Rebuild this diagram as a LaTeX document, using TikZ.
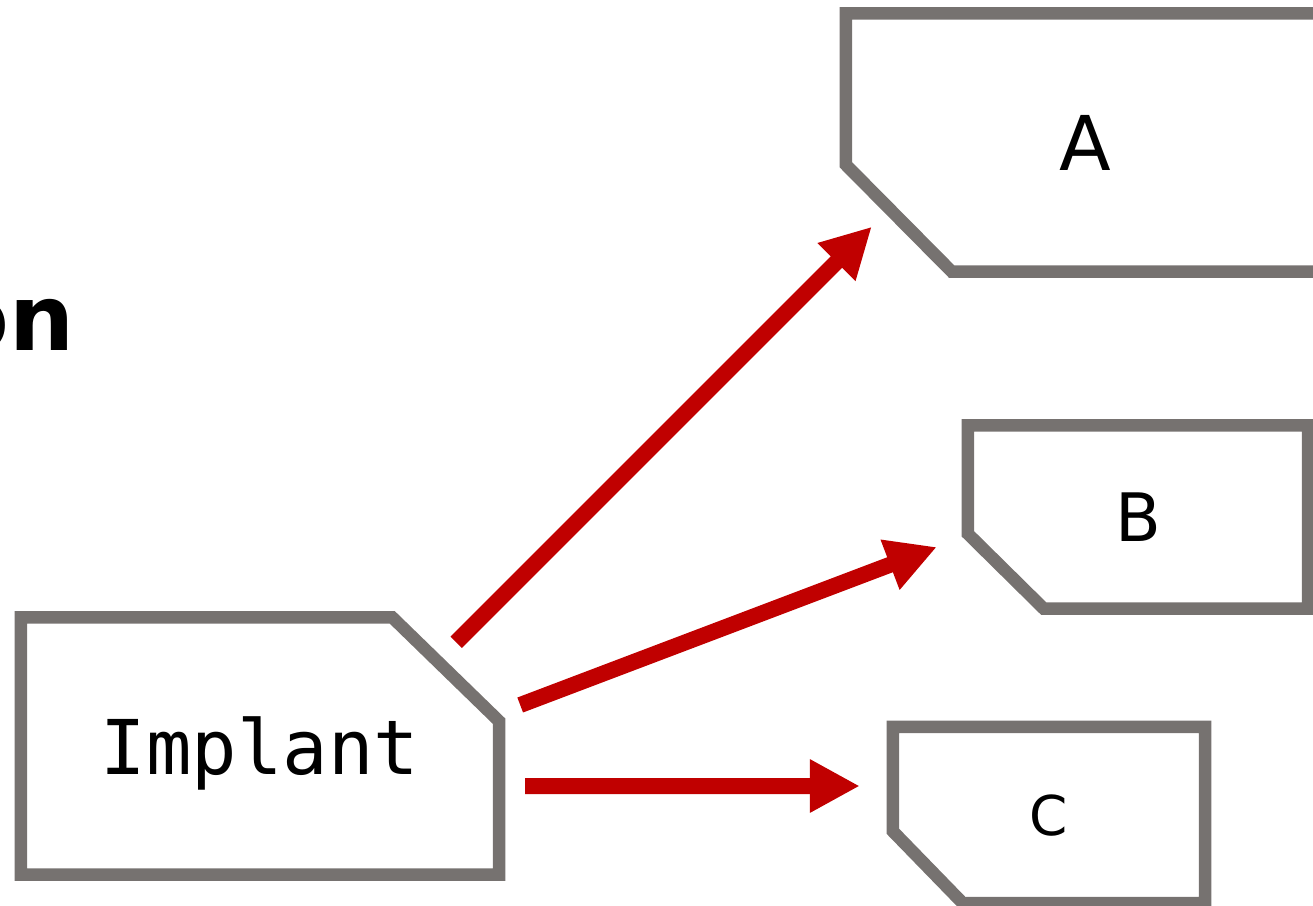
\documentclass[tikz,border=0pt]{standalone}
\usepackage{fontspec}
\setmainfont{DejaVu Sans}
\setmonofont{DejaVu Sans Mono}
\usepackage{xcolor}
\usepackage{tikz}
\usetikzlibrary{calc, arrows.meta, positioning}
\definecolor{boxgray}{RGB}{118,114,112}
\definecolor{flowred}{RGB}{192,0,0}
\tikzset{
    boxnode/.style = {draw=none, rectangle, inner sep = 0em, node distance=0em, text depth=0pt},
    boxline/.style = {draw=boxgray, line width=0.125cm, miter limit=10},
    textnode/.style  = {draw=none, fill=none, rectangle, inner sep = 0em, node distance=0em},
    connect/.style = {draw=flowred, line width=0.16cm, -{Triangle[length=0.5cm, width=0.5cm]}},
    every text node part/.style={align=center}
}
\begin{document}
\begin{tikzpicture}
    \useasboundingbox (0,0) rectangle (13.13,9.05);
    \clip (0,0) rectangle (13.13,9.05);

    \node [name=title, textnode, anchor=base east, font=\bfseries\fontsize{26}{30}\selectfont] 
        at (0.75,5.55) {on}; 

    \node [name=implant, boxnode, minimum width=4.77cm, minimum height=2.56cm, 
        font=\ttfamily\fontsize{21.5}{26}\selectfont] at (2.6,1.59) {Implant}; 

    \node [name=a, boxnode, minimum width=4.77cm, minimum height=2.57cm, 
        font=\fontsize{21.5}{26}\selectfont, right of = implant, xshift=8.25cm, yshift=6.035cm] {A}; 
    \node [name=b, boxnode, minimum width=3.39cm, minimum height=1.82cm, 
        font=\fontsize{19}{23}\selectfont, right of = implant, xshift=8.78cm, yshift=2.29cm] {B}; 
    \node [name=c, boxnode, minimum width=3.11cm, minimum height=1.75cm, 
        font=\fontsize{15.6}{19}\selectfont, right of = implant, xshift=7.89cm, yshift=-0.69cm] {C}; 

    % outlines with one cut corner
    \draw [boxline] (implant.south west) -- (implant.north west) -- ([xshift=-1.07cm]implant.north east) 
        -- ([yshift=-1.04cm]implant.north east) -- (implant.south east) -- cycle;
    \draw [boxline] ([yshift=1.07cm]a.south west) -- (a.north west) -- (a.north east) 
        -- (a.south east) -- ([xshift=1.06cm]a.south west) -- cycle;
    \draw [boxline] ([yshift=0.75cm]b.south west) -- (b.north west) -- (b.north east) 
        -- (b.south east) -- ([xshift=0.76cm]b.south west) -- cycle;
    \draw [boxline] ([yshift=0.72cm]c.south west) -- (c.north west) -- (c.north east) 
        -- (c.south east) -- ([xshift=0.70cm]c.south west) -- cycle;

    \draw [connect] ([xshift=-0.43cm, yshift=-0.25cm]implant.north east) -- ([xshift=0.26cm, yshift=0.45cm]a.south west);
    \draw [connect] ([xshift=0.21cm, yshift=0.41cm]implant.east) -- ([xshift=-0.31cm, yshift=-0.3cm]b.west);
    \draw [connect] ([xshift=0.26cm, yshift=-0.4cm]implant.east) -- ([xshift=-0.33cm, yshift=0.29cm]c.west);
\end{tikzpicture}
\end{document}
